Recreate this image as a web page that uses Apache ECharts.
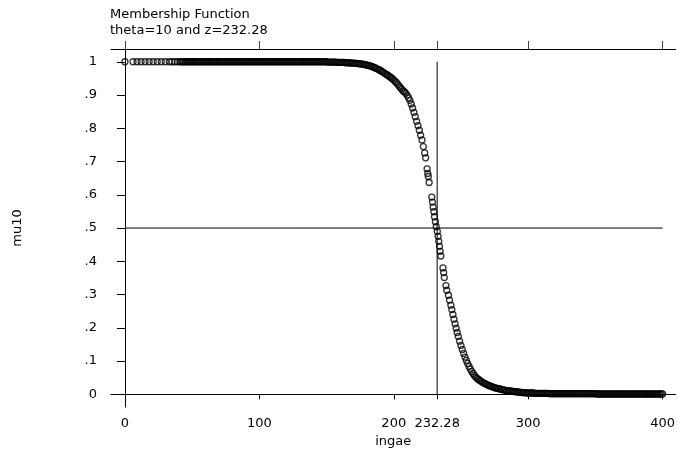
<!DOCTYPE html>
<html>
<head>
<meta charset="utf-8">
<script src="https://cdn.jsdelivr.net/npm/echarts@6/dist/echarts.min.js"></script>
<style>
html,body{margin:0;padding:0;background:#fff;}
#chart{width:678px;height:453px;}
</style>
</head>
<body>
<div id="chart"></div>
<script>
// ---- data ----
var ingae = [
  0, 6, 9, 12, 15, 18, 21, 24, 27, 30, 33, 35, 37, 39,
  41, 42, 43, 44, 45, 46, 47, 48, 49, 50, 51, 52, 53, 54, 55, 56, 57, 58, 59, 60,
  61, 62, 63, 64, 65, 66, 67, 68, 69, 70, 71, 72, 73, 74, 75, 76, 77, 78, 79, 80,
  81, 82, 83, 84, 85, 86, 87, 88, 89, 90, 91, 92, 93, 94, 95, 96, 97, 98, 99, 100,
  101, 102, 103, 104, 105, 106, 107, 108, 109, 110, 111, 112, 113, 114, 115, 116, 117, 118, 119, 120,
  121, 122, 123, 124, 125, 126, 127, 128, 129, 130, 131, 132, 133, 134, 135, 136, 137, 138, 139, 140,
  141, 142, 143, 144, 145, 146, 147, 148, 149, 150, 151, 152, 153, 154, 155, 156, 157, 158, 159, 160,
  161, 162, 163, 164, 165, 166, 167, 168, 169, 170, 171, 172, 173, 174, 175, 176, 177, 178, 179,
  180, 181, 182, 183, 184, 185, 186, 187, 188, 189, 190, 191, 192, 193, 194, 195, 196, 197, 198, 199,
  200, 201, 202, 203, 204, 205, 206, 207, 208, 209, 210, 211, 212, 213, 214, 215, 216, 217, 218, 219,
  220, 221, 222, 223, 223.7,
  224.8, 225.3, 225.7, 226.3,
  228.3, 228.8, 229.3, 229.8, 230.3, 231.0, 231.6, 232.4, 233.0, 233.5, 234.0, 234.5, 235.0,
  236.6, 237.1, 237.6,
  238.8, 239.4, 240.7, 241.5, 242.5, 243.2, 244, 244.8, 245.6, 246.4, 247.2, 248, 249,
  250, 251, 252, 253, 254, 255, 256, 257, 258, 259, 260, 261, 262, 263, 264, 265, 266, 267, 268, 269, 270,
  271, 272, 273, 274, 275, 276, 277, 278, 279, 280, 281, 282, 283, 284, 285, 286, 287, 288, 289, 290,
  291, 292, 293, 294, 295, 296, 297, 298, 299, 300, 301, 302, 303, 304, 305, 306, 307, 308, 309, 310,
  311, 312, 313, 314, 315, 316, 317, 318, 319, 320, 321, 322, 323, 324, 325, 326, 327, 328, 329, 330,
  331, 332, 333, 334, 335, 336, 337, 338, 339, 340, 341, 342, 343, 344, 345, 346, 347, 348, 349, 350,
  351, 352, 353, 354, 355, 356, 357, 358, 359, 360, 361, 362, 363, 364, 365, 366, 367, 368, 369, 370,
  371, 372, 373, 374, 375, 376, 377, 378, 379, 380, 381, 382, 383, 384, 385, 386, 387, 388, 389, 390,
  391, 392, 393, 394, 395, 396, 397, 398, 399, 400
];
var mu10 = [
  1, 1, 1, 1, 1, 1, 1, 1, 1, 1, 1, 1, 1, 1,
  1, 1, 1, 1, 1, 1, 1, 1, 1, 1, 1, 1, 1, 1, 1, 1, 1, 1, 1, 1,
  1, 1, 1, 1, 1, 1, 1, 1, 1, 1, 1, 1, 1, 1, 1, 1, 1, 1, 1, 1,
  1, 1, 1, 1, 1, 1, 1, 1, 1, 1, 1, 1, 1, 1, 1, 1, 1, 1, 1, 1,
  1, 1, 1, 1, 1, 1, 1, 1, 1, 1, 1, 1, 1, 1, 1, 1, 1, 1, 1, 1,
  1, 1, 1, 1, 1, 1, 1, 1, 1, 1, 1, 1, 1, 1, 1, 1, 1, 1, 1, 1,
  1, 1, 1, 1, 1, 1, 1, 1, 1, 1, 0.999, 0.999, 0.999, 0.999, 0.999, 0.999, 0.999, 0.998, 0.998, 0.998,
  0.998, 0.998, 0.998, 0.997, 0.997, 0.997, 0.997, 0.996, 0.996, 0.996, 0.996, 0.995, 0.995, 0.994, 0.994, 0.993, 0.993, 0.992, 0.991,
  0.99, 0.989, 0.988, 0.987, 0.985, 0.984, 0.982, 0.98, 0.978, 0.976, 0.974, 0.971, 0.969, 0.966, 0.963, 0.961, 0.958, 0.955, 0.952, 0.949,
  0.945, 0.941, 0.937, 0.932, 0.927, 0.922, 0.917, 0.912, 0.909, 0.905, 0.899, 0.892, 0.884, 0.873, 0.861, 0.848, 0.835, 0.821, 0.808, 0.794,
  0.779, 0.765, 0.745, 0.726, 0.711,
  0.678, 0.664, 0.655, 0.637,
  0.593, 0.578, 0.563, 0.549, 0.534, 0.519, 0.504, 0.49, 0.475, 0.46, 0.445, 0.43, 0.416,
  0.38, 0.366, 0.351,
  0.327, 0.313, 0.298, 0.283, 0.268, 0.255, 0.24, 0.226, 0.212, 0.199, 0.186, 0.174, 0.16,
  0.147, 0.135, 0.123, 0.112, 0.102, 0.093, 0.084, 0.076, 0.069, 0.063, 0.057, 0.052, 0.048, 0.045, 0.042, 0.039, 0.036, 0.034, 0.032, 0.03, 0.028,
  0.026, 0.025, 0.023, 0.022, 0.02, 0.019, 0.018, 0.017, 0.016, 0.015, 0.014, 0.013, 0.012, 0.011, 0.011, 0.01, 0.01, 0.009, 0.009, 0.008,
  0.008, 0.007, 0.007, 0.006, 0.006, 0.005, 0.005, 0.005, 0.004, 0.004, 0.004, 0.004, 0.004, 0.004, 0.003, 0.003, 0.003, 0.003, 0.003, 0.003,
  0.003, 0.003, 0.003, 0.003, 0.003, 0.002, 0.002, 0.002, 0.002, 0.002, 0.002, 0.002, 0.002, 0.002, 0.002, 0.002, 0.002, 0.002, 0.002, 0.002,
  0.002, 0.002, 0.002, 0.002, 0.002, 0.002, 0.002, 0.002, 0.002, 0.002, 0.002, 0.002, 0.002, 0.002, 0.002, 0.002, 0.002, 0.002, 0.002, 0.002,
  0.001, 0.001, 0.001, 0.001, 0.001, 0.001, 0.001, 0.001, 0.001, 0.001, 0.001, 0.001, 0.001, 0.001, 0.001, 0.001, 0.001, 0.001, 0.001, 0.001,
  0.001, 0.001, 0.001, 0.001, 0.001, 0.001, 0.001, 0.001, 0.001, 0.001, 0.001, 0.001, 0.001, 0.001, 0.001, 0.001, 0.001, 0.001, 0.001, 0.001,
  0.001, 0.001, 0.001, 0.001, 0.001, 0.001, 0.001, 0.001, 0.001, 0.001
];
var xTicks = [0, 100, 200, 232.28, 300, 400];
var yTicks = [0, 0.1, 0.2, 0.3, 0.4, 0.5, 0.6, 0.7, 0.8, 0.9, 1];
var yTickLabels = ['0', '.1', '.2', '.3', '.4', '.5', '.6', '.7', '.8', '.9', '1'];
var zValue = 232.28;      // vertical reference line
var halfLevel = 0.5;      // horizontal reference line
var xRange = [0, 400];
var yRange = [0, 1];
var titleLines = ['Membership Function', 'theta=10 and z=232.28'];
var xName = 'ingae';
var yName = 'mu10';

// ---- chart ----
var FONT = '"DejaVu Sans", "Liberation Sans", Arial, sans-serif';
var points = ingae.map(function (x, i) { return [x, mu10[i]]; });

var chart = echarts.init(document.getElementById('chart'), null, { renderer: 'canvas' });
chart.setOption({
  animation: false,
  backgroundColor: '#fff',
  title: {
    text: titleLines.join('\n'),
    left: 110, top: 7, padding: 0,
    textStyle: { fontFamily: FONT, fontSize: 13, fontWeight: 'normal', color: '#000', lineHeight: 16 }
  },
  grid: { left: 111, top: 49, right: 0, bottom: 39, containLabel: false },
  xAxis: [{
    type: 'value', position: 'bottom',
    min: -10.37, max: 409.63,
    name: xName, nameLocation: 'middle', nameGap: 23,
    nameTextStyle: { fontFamily: FONT, fontSize: 13, color: '#000' },
    axisLine: { show: true, lineStyle: { color: '#000', width: 1 } },
    axisTick: { show: true, customValues: xTicks, length: 5, lineStyle: { color: '#000', width: 1 } },
    axisLabel: {
      show: true, customValues: xTicks, margin: 10,
      fontFamily: FONT, fontSize: 13, color: '#000',
      formatter: function (v) { return String(v); }
    },
    splitLine: { show: false }
  }, {
    type: 'value', position: 'top',
    min: -10.37, max: 409.63,
    axisLine: { show: true, lineStyle: { color: '#000', width: 1 } },
    axisTick: { show: true, customValues: xTicks, length: 8, lineStyle: { color: '#444', width: 1 } },
    axisLabel: { show: false },
    splitLine: { show: false }
  }],
  yAxis: {
    type: 'value',
    min: -0.03835, max: 1.03835,
    name: yName, nameLocation: 'middle', nameGap: 87, nameRotate: 90,
    nameTextStyle: { fontFamily: FONT, fontSize: 13, color: '#000' },
    axisLine: { show: true, lineStyle: { color: '#000', width: 1 } },
    axisTick: { show: true, customValues: yTicks, length: 8, lineStyle: { color: '#000', width: 1 } },
    axisLabel: {
      show: true, customValues: yTicks, margin: 14,
      fontFamily: FONT, fontSize: 13, color: '#000',
      formatter: function (v) {
        var idx = yTicks.findIndex(function (t) { return Math.abs(t - v) < 1e-9; });
        return idx >= 0 ? yTickLabels[idx] : '';
      }
    },
    splitLine: { show: false }
  },
  series: [{
    type: 'scatter',
    data: points,
    symbol: 'circle',
    symbolSize: 6,
    itemStyle: { color: 'rgba(255,255,255,0)', borderColor: '#000', borderWidth: 1.3 },
    emphasis: { disabled: true },
    z: 3
  }, {
    type: 'line',
    data: [[zValue, yRange[0]], [zValue, yRange[1]]],
    symbol: 'none',
    lineStyle: { color: '#000', width: 1 },
    z: 2
  }, {
    type: 'line',
    data: [[xRange[0], halfLevel], [xRange[1], halfLevel]],
    symbol: 'none',
    lineStyle: { color: '#000', width: 1 },
    z: 2
  }]
});
</script>
</body>
</html>
